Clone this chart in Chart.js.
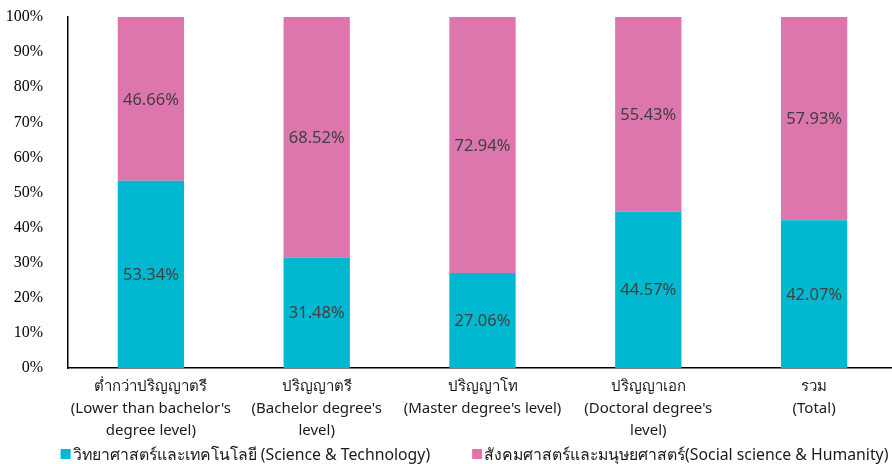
<!DOCTYPE html>
<html>
<head>
<meta charset="utf-8">
<script src="https://cdn.jsdelivr.net/npm/chart.js@4.4.1/dist/chart.umd.min.js"></script>
<style>
  html, body { margin: 0; padding: 0; background: #fff; overflow: hidden; }
  #wrap { width: 898px; height: 464px; }
</style>
</head>
<body>
<div id="wrap"><canvas id="c" width="898" height="464"></canvas></div>
<script>
// Education levels (Thai name + English in brackets)
const categories = [
  ['ต่ำกว่าปริญญาตรี', "(Lower than bachelor's", 'degree level)'],
  ['ปริญญาตรี', "(Bachelor degree's", 'level)'],
  ['ปริญญาโท', "(Master degree's level)"],
  ['ปริญญาเอก', "(Doctoral degree's", 'level)'],
  ['รวม', '(Total)']
];
const seriesNames = [
  'วิทยาศาสตร์และเทคโนโลยี (Science & Technology)',
  'สังคมศาสตร์และมนุษยศาสตร์(Social science & Humanity)'
];
const scienceTech = [53.34, 31.48, 27.06, 44.57, 42.07];
const socialHuman = [46.66, 68.52, 72.94, 55.43, 57.93];
const yTicks = [0, 10, 20, 30, 40, 50, 60, 70, 80, 90, 100];
const seriesColors = ['#00B8D0', '#DE76AE'];

const uiFont = "Tahoma, 'Noto Sans', 'DejaVu Sans', sans-serif";

// Writes each segment's percentage at the middle of its bar segment
const segmentLabels = {
  id: 'segmentLabels',
  afterDatasetsDraw(chart) {
    const ctx = chart.ctx;
    ctx.save();
    ctx.font = '16.5px ' + uiFont;
    ctx.fillStyle = '#404040';
    ctx.textAlign = 'center';
    ctx.textBaseline = 'middle';
    chart.data.datasets.forEach((ds, di) => {
      chart.getDatasetMeta(di).data.forEach((bar, i) => {
        const p = bar.getProps(['x', 'y', 'base'], true);
        ctx.fillText(ds.data[i].toFixed(2) + '%', p.x, (p.y + p.base) / 2 + 1);
      });
    });
    ctx.restore();
  }
};

// Legend row under the axis labels: small square + series name
const bottomLegend = {
  id: 'bottomLegend',
  afterDraw(chart) {
    const ctx = chart.ctx;
    const box = 10, textGap = 2, itemGap = 42, centerX = 474.5, midY = 454;
    ctx.save();
    ctx.font = '15.8px ' + uiFont;
    ctx.textBaseline = 'middle';
    ctx.textAlign = 'left';
    const widths = seriesNames.map(n => box + textGap + ctx.measureText(n).width);
    const total = widths.reduce((a, b) => a + b, 0) + itemGap * (widths.length - 1);
    let x = centerX - total / 2;
    seriesNames.forEach((name, i) => {
      ctx.fillStyle = seriesColors[i];
      ctx.fillRect(x, midY - box / 2, box, box);
      ctx.fillStyle = '#1a1a1a';
      ctx.fillText(name, x + box + textGap, midY + 1);
      x += widths[i] + itemGap;
    });
    ctx.restore();
  }
};

new Chart(document.getElementById('c'), {
  type: 'bar',
  data: {
    labels: categories,
    datasets: seriesNames.map((name, i) => ({
      label: name,
      data: [scienceTech, socialHuman][i],
      backgroundColor: seriesColors[i],
      categoryPercentage: 1,
      barPercentage: 0.4
    }))
  },
  options: {
    responsive: false,
    animation: false,
    layout: { padding: { top: 17, right: 1, left: 0, bottom: 8 } },
    plugins: {
      legend: { display: false },
      tooltip: { enabled: false }
    },
    scales: {
      x: {
        stacked: true,
        afterFit(scale) { scale.height = 88; },
        grid: { display: false, drawTicks: false },
        border: { display: true, color: '#000', width: 1.5 },
        ticks: {
          color: '#1a1a1a', padding: 8, maxRotation: 0, autoSkip: false,
          font: { family: uiFont, size: 15, lineHeight: 1.47 }
        }
      },
      y: {
        stacked: true,
        min: 0, max: 100,
        afterBuildTicks(scale) { scale.ticks = yTicks.map(v => ({ value: v })); },
        afterFit(scale) { scale.width = 68; },
        grid: { display: false, drawTicks: true, tickLength: 22 },
        border: { display: true, color: '#000', width: 1.5 },
        ticks: {
          color: '#000', padding: 3,
          font: { family: "'Liberation Serif', 'Times New Roman', serif", size: 16 },
          callback: v => v + '%'
        }
      }
    }
  },
  plugins: [segmentLabels, bottomLegend]
});
</script>
</body>
</html>
